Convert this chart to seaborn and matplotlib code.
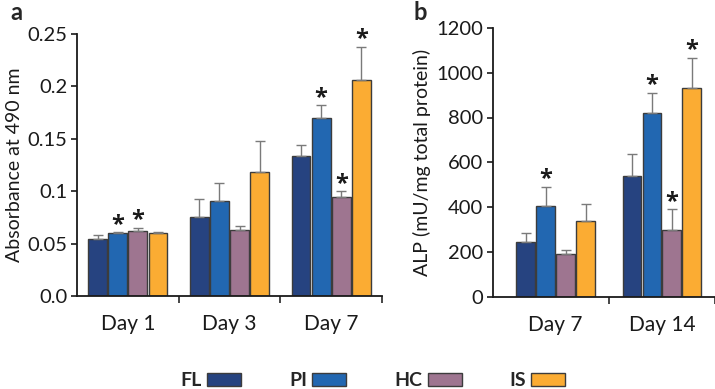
import numpy as np
import pandas as pd
import matplotlib
matplotlib.use("Agg")
import matplotlib.pyplot as plt
import seaborn as sns
from matplotlib.patches import Patch

groups = ["FL", "PI", "HC", "IS"]
colors = ["#264380", "#2267b1", "#9e7590", "#fbac33"]

days_a = ["Day 1", "Day 3", "Day 7"]
mean_a = {"FL": [0.054, 0.075, 0.134], "PI": [0.060, 0.091, 0.170],
          "HC": [0.062, 0.063, 0.094], "IS": [0.060, 0.118, 0.206]}
err_a = {"FL": [0.004, 0.018, 0.010], "PI": [0.001, 0.017, 0.012],
         "HC": [0.003, 0.004, 0.006], "IS": [0.001, 0.030, 0.032]}
star_a = {"FL": [0, 0, 0], "PI": [1, 0, 1], "HC": [1, 0, 1], "IS": [0, 0, 1]}

days_b = ["Day 7", "Day 14"]
mean_b = {"FL": [245, 537], "PI": [406, 820], "HC": [191, 298], "IS": [336, 932]}
err_b = {"FL": [39, 101], "PI": [85, 90], "HC": [17, 93], "IS": [77, 134]}
star_b = {"FL": [0, 0], "PI": [1, 1], "HC": [0, 1], "IS": [0, 1]}

sns.set_style("white")
plt.rcParams["font.family"] = ["Lato", "DejaVu Sans"]

fig = plt.figure(figsize=(7.15, 3.89), dpi=100)
ax_a = fig.add_axes([77 / 715, 1 - 296 / 389, (382 - 77) / 715, (296 - 34) / 389])
ax_b = fig.add_axes([493 / 715, 1 - 296.5 / 389, (715 - 493) / 715, (296.5 - 28) / 389])


def panel(ax, days, means, errs, stars, width, xlim, ylim, yticks, yfmt, ylabel):
    rows = []
    for g in groups:
        for i, d in enumerate(days):
            rows.append({"day": d, "group": g, "val": means[g][i]})
    df = pd.DataFrame(rows)
    sns.barplot(data=df, x="day", y="val", hue="group", hue_order=groups,
                palette=colors, order=days, width=width, gap=0.06, saturation=1,
                errorbar=None, edgecolor="#3c3c3c", linewidth=1.0,
                legend=False, ax=ax)
    for gi, g in enumerate(groups):
        cont = ax.containers[gi]
        for i, bar in enumerate(cont.patches):
            x = bar.get_x() + bar.get_width() / 2
            h = means[g][i]
            e = errs[g][i]
            ax.errorbar([x], [h], yerr=[[0], [e]], fmt="none", ecolor="#7a7a7a",
                        elinewidth=1.0, capsize=3.5, capthick=1.0, zorder=1)
            if stars[g][i]:
                ax.annotate("*", (x, h + e), xytext=(0, 1.0), textcoords="offset points",
                            ha="center", va="baseline", fontsize=17, fontweight="bold",
                            family=["Open Sans", "DejaVu Sans"], color="#1a1a1a")
    ax.set_xlim(*xlim)
    ax.set_ylim(*ylim)
    ax.set_yticks(yticks)
    ax.set_yticklabels([yfmt(v) for v in yticks])
    ax.set_xticks(range(len(days)))
    ax.set_xticklabels(days)
    ax.set_xticks([i + 0.5 for i in range(len(days))], minor=True)
    ax.tick_params(axis="x", which="major", length=0, pad=13, labelsize=15, colors="#1a1a1a")
    ax.tick_params(axis="x", which="minor", length=5, width=1.2, direction="out", bottom=True)
    ax.tick_params(axis="y", length=4, width=1.2, direction="out", left=True,
                   labelsize=14.5, colors="#1a1a1a", pad=3)
    ax.set_xlabel("")
    ax.set_ylabel(ylabel, fontsize=14, color="#1a1a1a")
    for s in ["top", "right"]:
        ax.spines[s].set_visible(False)
    for s in ["left", "bottom"]:
        ax.spines[s].set_color("#1a1a1a")
        ax.spines[s].set_linewidth(1.3)


panel(ax_a, days_a, mean_a, err_a, star_a, 0.79, (-0.5, 2.5), (0, 0.25),
      [0, 0.05, 0.1, 0.15, 0.2, 0.25],
      lambda v: "0.0" if v == 0 else ("%g" % v), "Absorbance at 490 nm")
panel(ax_b, days_b, mean_b, err_b, star_b, 0.75, (-0.59, 1.47), (0, 1200),
      [0, 200, 400, 600, 800, 1000, 1200], lambda v: "%d" % v,
      "ALP (mU/mg total protein)")
ax_a.yaxis.labelpad = 3
ax_b.yaxis.labelpad = 4

fig.text(10 / 715, 1 - 13 / 389, "a", fontsize=17, fontweight="bold", va="center", ha="left")
fig.text(413 / 715, 1 - 13 / 389, "b", fontsize=17, fontweight="bold", va="center", ha="left")

handles = [Patch(facecolor=c, edgecolor="#3c3c3c", linewidth=1.0) for c in colors]
fig.legend(handles, groups, loc="center", bbox_to_anchor=(373 / 715, 1 - 381 / 389),
           ncol=4, frameon=False, markerfirst=False, handlelength=1.75,
           handleheight=0.62, columnspacing=2.45, handletextpad=0.28,
           prop={"weight": "bold", "size": 14})

fig.savefig("out.png", dpi=100)
